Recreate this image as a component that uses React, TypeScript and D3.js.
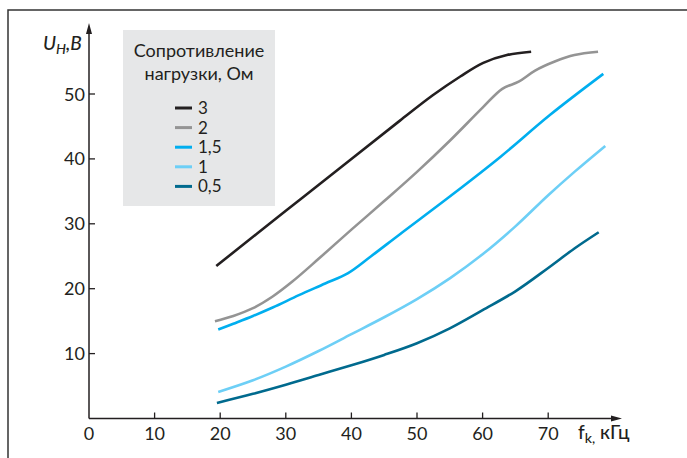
import React from 'react';
import * as d3 from 'd3';

// frequency, kHz / voltage, V
const load3 = [[19.4, 23.5], [30, 32], [40, 40], [47.4, 45.9], [52.4, 49.8], [56.6, 52.7], [60.1, 54.8], [63.7, 56.0], [67.4, 56.5]];
const load2 = [[19.2, 15.0], [22, 15.8], [25, 17.0], [28, 18.8], [31, 21.1], [35, 24.6], [40, 29.1], [45, 33.5], [50, 38.0], [55, 42.8], [60, 47.9], [63, 50.8], [65.5, 51.9], [68, 53.6], [71, 55.0], [74, 56.0], [77.6, 56.5]];
const load15 = [[19.7, 13.7], [22, 14.6], [25, 15.8], [28, 17.1], [32, 19.0], [36, 20.8], [39.5, 22.4], [43, 25.0], [47.4, 28.4], [55, 34.2], [62.7, 40.3], [70.3, 46.8], [78.4, 53.1]];
const load1 = [[19.7, 4.1], [25, 5.9], [30, 8.0], [35, 10.4], [40, 13.0], [45, 15.6], [50, 18.4], [55, 21.6], [60, 25.3], [65, 29.6], [70, 34.4], [74, 38.0], [78.7, 42.0]];
const load05 = [[19.5, 2.4], [25, 3.8], [30, 5.2], [35, 6.7], [40, 8.2], [45, 9.8], [50, 11.6], [55, 13.9], [60, 16.7], [65, 19.6], [70, 23.2], [74, 26.2], [77.7, 28.7]];

const seriesNames = ['3', '2', '1,5', '1', '0,5'];
const seriesData = [load3, load2, load15, load1, load05];
const colors = ['#231f20', '#949494', '#00aeef', '#6dcff6', '#006a8e'];

const xTicks = [10, 20, 30, 40, 50, 60, 70];
const xLabels = [0, 10, 20, 30, 40, 50, 60, 70];
const yTicks = [10, 20, 30, 40, 50];

const font = 'Lato, "Open Sans", sans-serif';

export default function App() {
  const x = d3.scaleLinear().domain([0, 10]).range([89, 154.6]);
  const y = d3.scaleLinear().domain([0, 10]).range([418.5, 353.6]);
  const line = d3.line<number[]>().x(d => x(d[0])).y(d => y(d[1])).curve(d3.curveCatmullRom.alpha(0.5));
  const axisColor = '#231f20';

  return (
    <svg width={687} height={458} style={{ position: 'absolute', left: 0, top: 0 }} fontFamily={font}>
      <rect width={687} height={458} fill="#fff" />
      {/* frame */}
      <path d="M8,458 V10 H687" fill="none" stroke="#333" strokeWidth={1.5} />

      {/* legend box */}
      <rect x={123} y={30} width={152} height={176} fill="#e6e7e8" />
      <text x={199} y={57} textAnchor="middle" fontSize={18} fill="#231f20">Сопротивление</text>
      <text x={199} y={80} textAnchor="middle" fontSize={18} fill="#231f20">нагрузки, Ом</text>
      {seriesNames.map((n, i) => (
        <g key={n}>
          <line x1={175} x2={192} y1={108 + i * 19.6} y2={108 + i * 19.6} stroke={colors[i]} strokeWidth={3} />
          <text x={198} y={114 + i * 19.6} fontSize={17} fill="#231f20">{n}</text>
        </g>
      ))}

      {/* axes */}
      <line x1={x(0)} x2={x(0)} y1={y(0)} y2={30} stroke={axisColor} strokeWidth={1.5} />
      <path d={`M${x(0) - 3},34 L${x(0)},23 L${x(0) + 3},34 Z`} fill={axisColor} />
      <line x1={x(0)} x2={615} y1={y(0)} y2={y(0)} stroke={axisColor} strokeWidth={1.5} />
      <path d={`M611,${y(0) - 3} L622,${y(0)} L611,${y(0) + 3} Z`} fill={axisColor} />
      {xTicks.map(t => (
        <line key={t} x1={x(t)} x2={x(t)} y1={y(0)} y2={y(0) - 6} stroke={axisColor} strokeWidth={1.3} />
      ))}
      {xLabels.map(t => (
        <text key={t} x={x(t)} y={440} textAnchor="middle" fontSize={18} fill="#231f20">{t}</text>
      ))}
      {yTicks.map(t => (
        <g key={t}>
          <line x1={x(0)} x2={x(0) + 6} y1={y(t)} y2={y(t)} stroke={axisColor} strokeWidth={1.3} />
          <text x={85} y={y(t) + 6.5} textAnchor="end" fontSize={18} fill="#231f20">{t}</text>
        </g>
      ))}

      {/* axis titles */}
      <text x={43} y={50} fontSize={19} fontStyle="italic" fontWeight={500} fill="#231f20">
        U<tspan fontSize={14} dy={4}>Н</tspan><tspan dy={-4}>,В</tspan>
      </text>
      <text x={578} y={439} fontSize={19} fontWeight={500} fill="#231f20">
        f<tspan fontSize={14} dy={4}>k,</tspan><tspan dy={-4}> кГц</tspan>
      </text>

      {/* curves */}
      {seriesData.map((d, i) => (
        <path key={i} d={line(d) || ''} fill="none" stroke={colors[i]} strokeWidth={2.6} strokeLinecap="butt" />
      ))}
    </svg>
  );
}
